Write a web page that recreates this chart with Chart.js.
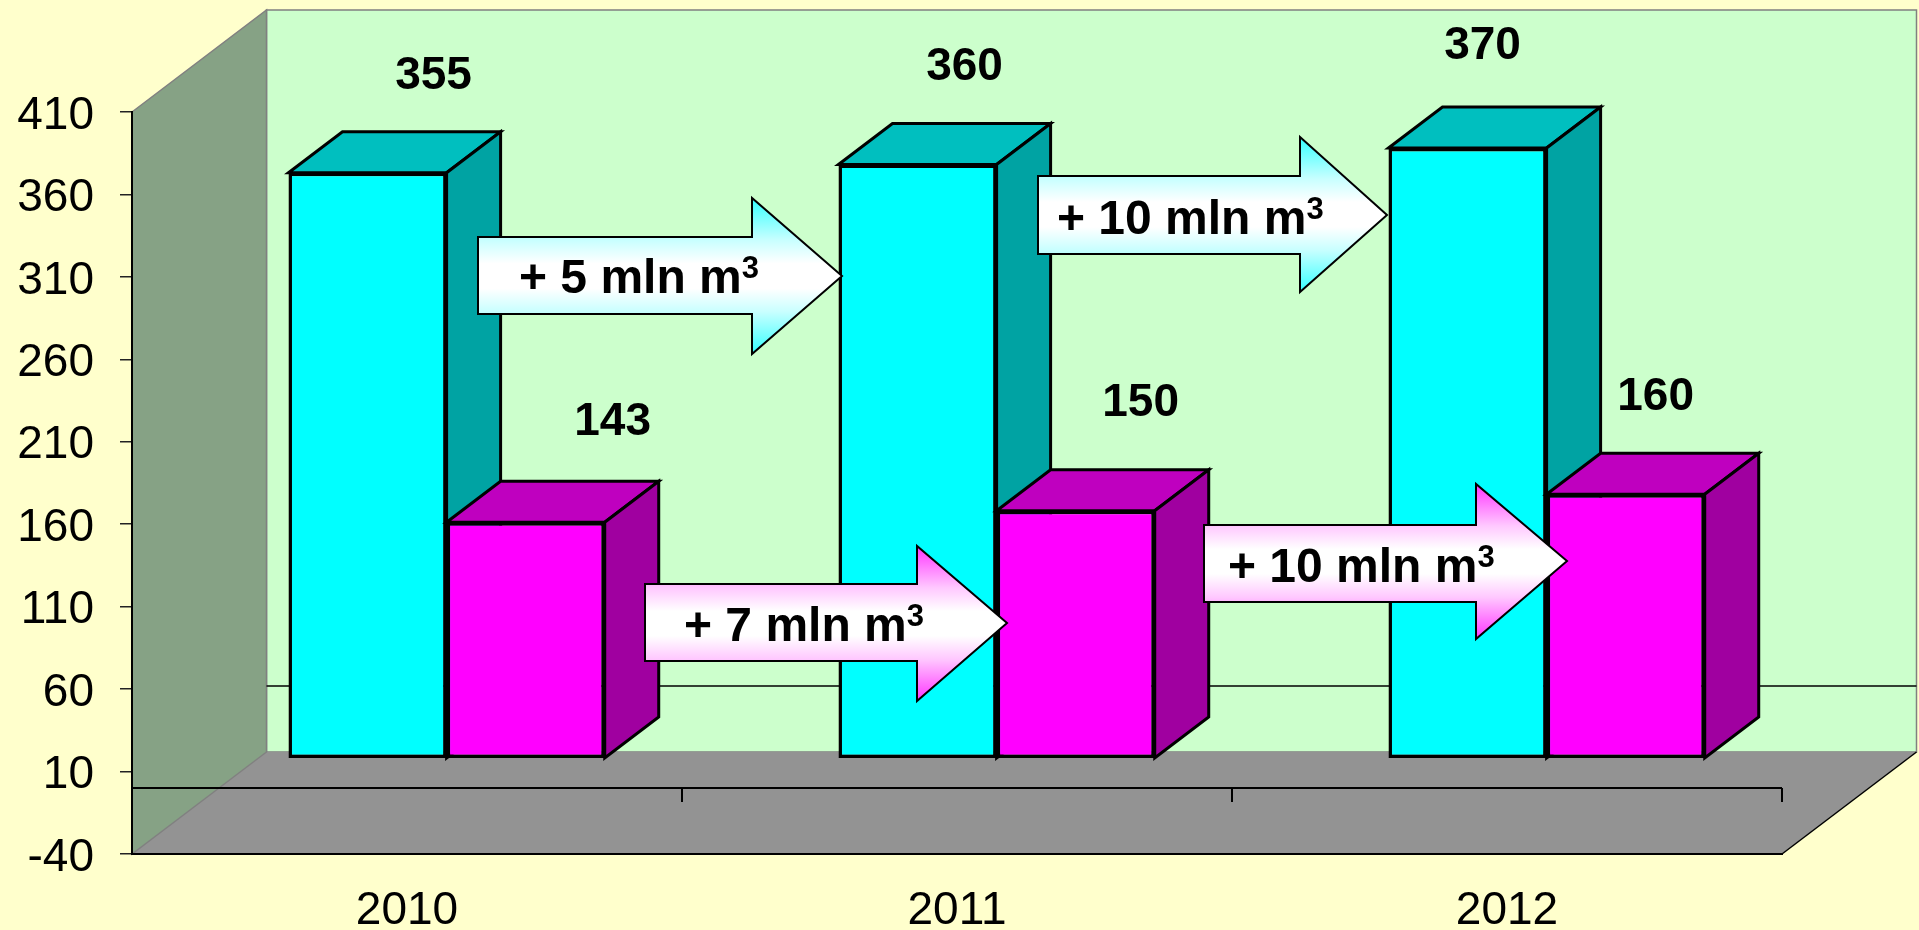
<!DOCTYPE html>
<html>
<head>
<meta charset="utf-8">
<style>html,body{margin:0;padding:0;background:#FFFFCC;overflow:hidden}canvas{display:block}</style>
<script src="https://cdn.jsdelivr.net/npm/chart.js@4"></script>
</head>
<body>
<canvas id="c" width="1919" height="930"></canvas>
<script>
const categories = ['2010', '2011', '2012'];
const cyanValues = [355, 360, 370];
const magentaValues = [143, 150, 160];
const arrowTexts = ['+ 5 mln m', '+ 10 mln m', '+ 7 mln m', '+ 10 mln m'];

const FONT = '"Liberation Sans", Arial, sans-serif';
const wallDepth = {dx: 134.5, dy: -102};
const barShift = {dx: 39.6, dy: -30};
const barDepth = {dx: 54, dy: -41};

// presentation only: where each value label sits relative to its bar top
const labelNudges = [
  [[66, -96.5], [47, -97.5], [15, -101.5]],
  [[87, -99.5], [65, -107], [30, -96.5]]
];
// presentation only: annotation arrows (tail, body top/bottom, head base, head top/bottom, tip, text)
const arrowShapes = [
  {tail: 478, bt: 237, bb: 314, hx: 752, ht: 198, hb: 354, tip: 842, ty: 276, tx: 519, base: 293, kind: 0},
  {tail: 1038, bt: 176, bb: 254, hx: 1300, ht: 137, hb: 292, tip: 1387, ty: 215, tx: 1057, base: 234, kind: 0},
  {tail: 645, bt: 584, bb: 661, hx: 917, ht: 546, hb: 701, tip: 1007, ty: 623, tx: 684, base: 641, kind: 1},
  {tail: 1204, bt: 525, bb: 602, hx: 1476, ht: 484, hb: 639, tip: 1567, ty: 561, tx: 1228, base: 582, kind: 1}
];

function poly(ctx, pts, fill, stroke, lw) {
  ctx.beginPath();
  pts.forEach((p, i) => i ? ctx.lineTo(p[0], p[1]) : ctx.moveTo(p[0], p[1]));
  ctx.closePath();
  if (fill) { ctx.fillStyle = fill; ctx.fill(); }
  if (stroke) { ctx.strokeStyle = stroke; ctx.lineWidth = lw; ctx.lineJoin = 'miter'; ctx.stroke(); }
}
function seg(ctx, x0, y0, x1, y1, color, lw) {
  ctx.beginPath(); ctx.moveTo(x0, y0); ctx.lineTo(x1, y1);
  ctx.strokeStyle = color; ctx.lineWidth = lw; ctx.stroke();
}
function drawFaces(chart, index) {
  const {ctx} = chart;
  const ds = chart.data.datasets[index];
  const b = barDepth;
  chart.getDatasetMeta(index).data.forEach(el => {
    const l = el.x - el.width / 2, r = el.x + el.width / 2, t = el.y, bt = el.base;
    poly(ctx, [[l, t], [l + b.dx, t + b.dy], [r + b.dx, t + b.dy], [r, t]], ds.topColor, '#000', 3);
    poly(ctx, [[r, t], [r + b.dx, t + b.dy], [r + b.dx, bt + b.dy], [r, bt]], ds.sideColor, '#000', 3);
  });
}

const scene3d = {
  id: 'scene3d',
  beforeDraw(chart) {
    const {ctx, chartArea: a} = chart;
    const d = wallDepth;
    ctx.save();
    ctx.fillStyle = '#FFFFCC';
    ctx.fillRect(0, 0, chart.width, chart.height);
    poly(ctx, [[a.left + d.dx, a.top + d.dy], [a.right + d.dx, a.top + d.dy], [a.right + d.dx, a.bottom + d.dy], [a.left + d.dx, a.bottom + d.dy]], '#CCFFCC', '#808080', 1.5);
    poly(ctx, [[a.left, a.bottom], [a.left + d.dx, a.bottom + d.dy], [a.right + d.dx, a.bottom + d.dy], [a.right, a.bottom]], '#939393');
    seg(ctx, a.right, a.bottom, a.right + d.dx, a.bottom + d.dy, '#000', 1.5);
    poly(ctx, [[a.left, a.top], [a.left + d.dx, a.top + d.dy], [a.left + d.dx, a.bottom + d.dy], [a.left, a.bottom]], '#86A285', '#808080', 1.5);
    ctx.restore();
  },
  beforeDatasetsDraw(chart) {
    const {ctx, chartArea: a, scales: {y}} = chart;
    const zero = y.getPixelForValue(0);
    const d = wallDepth;
    ctx.save();
    seg(ctx, a.left + d.dx, zero + d.dy, a.right + d.dx, zero + d.dy, '#000', 1.5);
    seg(ctx, a.left, zero, a.right, zero, '#000', 2);
    const band = (a.right - a.left) / categories.length;
    for (let i = 0; i <= categories.length; i++) {
      const px = a.left + band * i;
      seg(ctx, px, zero, px, zero + 14, '#000', 2);
    }
    ctx.restore();
  },
  // The magenta bars must paint over the cyan bars' side faces, so they are
  // held back from the library's normal pass and drawn straight after cyan.
  beforeDatasetDraw(chart, args) {
    if (args.index === 1) return false;
    chart.ctx.save();
    chart.ctx.translate(barShift.dx, barShift.dy);
    drawFaces(chart, args.index);
  },
  afterDatasetDraw(chart, args) {
    if (args.index === 0) {
      drawFaces(chart, 1);
      chart.getDatasetMeta(1).controller.draw();
    }
    chart.ctx.restore();
  },
  afterDatasetsDraw(chart) {
    const {ctx} = chart;
    ctx.save();
    ctx.fillStyle = '#000';
    ctx.font = 'bold 46px ' + FONT;
    ctx.textAlign = 'center';
    ctx.textBaseline = 'middle';
    chart.data.datasets.forEach((ds, di) => {
      chart.getDatasetMeta(di).data.forEach((el, i) => {
        const n = labelNudges[di][i];
        ctx.fillText(String(ds.data[i]), el.x + barShift.dx + n[0], el.y + barShift.dy + n[1]);
      });
    });
    arrowShapes.forEach((s, i) => {
      const g = ctx.createLinearGradient(0, s.ht, 0, s.hb);
      const c = s.kind === 0 ? ['#33FFFF', '#C8FFFF'] : ['#FF33FF', '#FFC8FF'];
      g.addColorStop(0, c[0]); g.addColorStop(0.27, c[1]); g.addColorStop(0.42, '#FFFFFF');
      g.addColorStop(0.58, '#FFFFFF'); g.addColorStop(0.73, c[1]); g.addColorStop(1, c[0]);
      poly(ctx, [[s.tail, s.bt], [s.hx, s.bt], [s.hx, s.ht], [s.tip, s.ty], [s.hx, s.hb], [s.hx, s.bb], [s.tail, s.bb]], g, '#000', 2);
      ctx.fillStyle = '#000';
      ctx.font = 'bold 48px ' + FONT;
      ctx.textAlign = 'left';
      ctx.textBaseline = 'alphabetic';
      ctx.fillText(arrowTexts[i], s.tx, s.base);
      const w = ctx.measureText(arrowTexts[i]).width;
      ctx.font = 'bold 31px ' + FONT;
      ctx.fillText('3', s.tx + w, s.base - 15);
    });
    ctx.restore();
  }
};

new Chart(document.getElementById('c'), {
  type: 'bar',
  data: {
    labels: categories,
    datasets: [
      {data: cyanValues, backgroundColor: '#00FFFF', sideColor: '#00A3A3', topColor: '#00BFBF', borderColor: '#000', borderWidth: 3.5, borderSkipped: false, clip: false},
      {data: magentaValues, backgroundColor: '#FF00FF', sideColor: '#A000A0', topColor: '#BF00BF', borderColor: '#000', borderWidth: 3.5, borderSkipped: false, clip: false}
    ]
  },
  plugins: [scene3d],
  options: {
    responsive: false,
    animation: false,
    devicePixelRatio: 1,
    layout: {padding: {left: 0, right: 137, top: 112, bottom: 0}},
    categoryPercentage: 0.575,
    barPercentage: 1,
    plugins: {legend: {display: false}, tooltip: {enabled: false}, title: {display: false}},
    scales: {
      x: {
        type: 'category',
        grid: {display: false, drawTicks: false},
        border: {display: true, color: '#000', width: 2},
        ticks: {color: '#000', padding: 30, font: {family: FONT, size: 46}, maxRotation: 0},
        afterFit(s) { s.height = 76; }
      },
      y: {
        type: 'linear',
        min: -40,
        max: 410,
        grid: {drawOnChartArea: false, drawTicks: true, tickLength: 12, color: '#222', lineWidth: 1.5},
        border: {display: true, color: '#000', width: 2},
        ticks: {stepSize: 50, color: '#000', padding: 26, labelOffset: 4, autoSkip: false, font: {family: FONT, size: 46}},
        afterFit(s) { s.width = 132; }
      }
    }
  }
});
</script>
</body>
</html>
